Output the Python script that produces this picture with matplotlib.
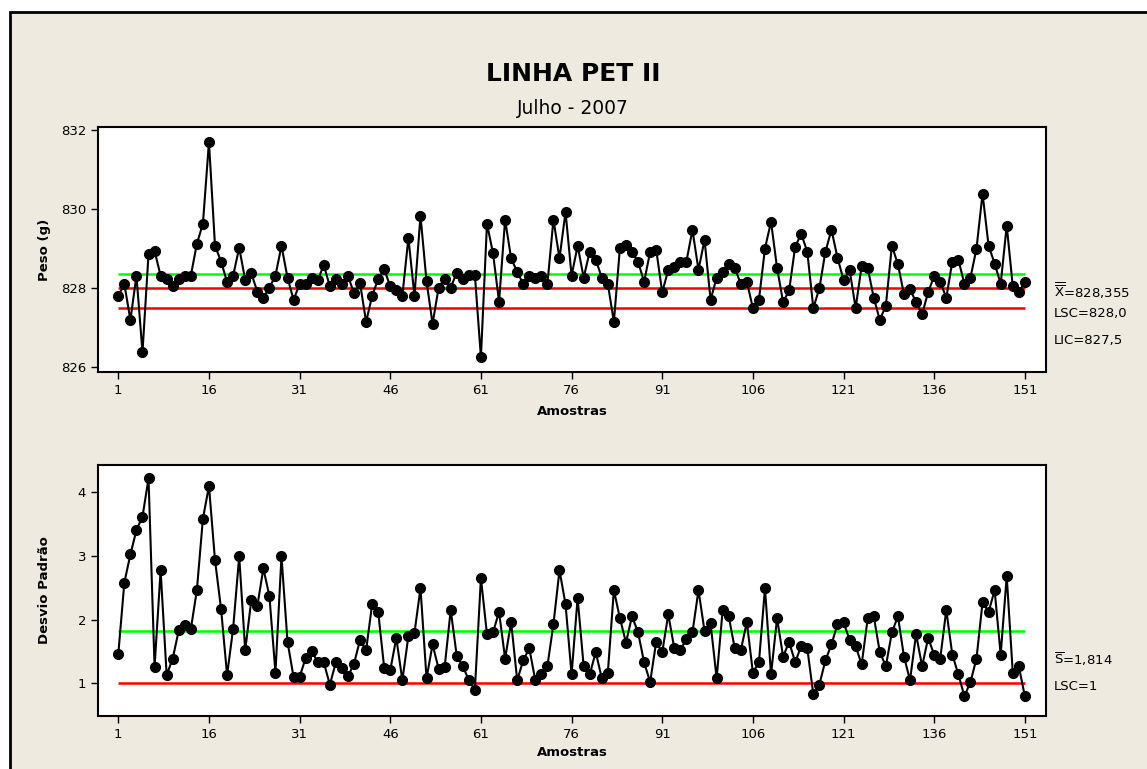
import numpy as np
import matplotlib
matplotlib.use("Agg")
import matplotlib.pyplot as plt
from matplotlib.patches import Rectangle

# data
amostras = np.arange(1, 152)

peso = [
    827.80, 828.10, 827.19, 828.31, 826.37, 828.86, 828.94, 828.31, 828.23, 828.04,
    828.23, 828.31, 828.31, 829.12, 829.63, 831.70, 829.07, 828.67, 828.15, 828.31,
    829.02, 828.20, 828.37, 827.91, 827.75, 828.01, 828.31, 829.07, 828.26, 827.70,
    828.10, 828.10, 828.26, 828.20, 828.58, 828.04, 828.23, 828.10, 828.31, 827.86,
    828.12, 827.14, 827.80, 828.23, 828.47, 828.04, 827.94, 827.80, 829.27, 827.80,
    829.83, 828.17, 827.09, 828.01, 828.23, 828.01, 828.39, 828.23, 828.33, 828.33,
    826.24, 829.63, 828.88, 827.65, 829.73, 828.75, 828.41, 828.10, 828.31, 828.26,
    828.31, 828.10, 829.73, 828.75, 829.93, 828.31, 829.07, 828.26, 828.92, 828.72,
    828.26, 828.10, 827.14, 829.02, 829.09, 828.92, 828.67, 828.15, 828.92, 828.97,
    827.89, 828.46, 828.53, 828.67, 828.67, 829.47, 828.46, 829.22, 827.70, 828.26,
    828.41, 828.62, 828.51, 828.10, 828.16, 827.49, 827.70, 829.00, 829.68, 828.51,
    827.64, 827.94, 829.05, 829.37, 828.92, 827.49, 827.99, 828.92, 829.47, 828.77,
    828.20, 828.46, 827.49, 828.56, 828.51, 827.75, 827.19, 827.55, 829.07, 828.60,
    827.84, 827.97, 827.64, 827.34, 827.89, 828.31, 828.16, 827.75, 828.67, 828.72,
    828.10, 828.26, 829.00, 830.39, 829.07, 828.62, 828.10, 829.58, 828.05, 827.89,
    828.16,
]

desvio = [
    1.46, 2.58, 3.02, 3.40, 3.61, 4.21, 1.26, 2.77, 1.13, 1.39,
    1.83, 1.91, 1.85, 2.46, 3.58, 4.09, 2.93, 2.17, 1.13, 1.86,
    2.99, 1.52, 2.30, 2.21, 2.80, 2.37, 1.17, 2.99, 1.65, 1.10,
    1.10, 1.40, 1.51, 1.33, 1.33, 0.98, 1.33, 1.24, 1.11, 1.31,
    1.68, 1.52, 2.24, 2.12, 1.24, 1.21, 1.71, 1.05, 1.74, 1.79,
    2.49, 1.08, 1.61, 1.23, 1.26, 2.15, 1.43, 1.27, 1.05, 0.90,
    2.65, 1.77, 1.80, 2.12, 1.39, 1.96, 1.05, 1.36, 1.55, 1.05,
    1.14, 1.27, 1.93, 2.77, 2.24, 1.14, 2.34, 1.27, 1.14, 1.49,
    1.08, 1.17, 2.46, 2.02, 1.64, 2.05, 1.80, 1.33, 1.02, 1.65,
    1.49, 2.08, 1.55, 1.52, 1.70, 1.80, 2.46, 1.82, 1.94, 1.08,
    2.15, 2.05, 1.55, 1.52, 1.96, 1.17, 1.33, 2.49, 1.14, 2.02,
    1.42, 1.65, 1.33, 1.59, 1.55, 0.83, 0.98, 1.36, 1.61, 1.93,
    1.96, 1.68, 1.58, 1.30, 2.02, 2.05, 1.49, 1.27, 1.80, 2.05,
    1.42, 1.05, 1.77, 1.27, 1.71, 1.45, 1.39, 2.15, 1.45, 1.14,
    0.80, 1.02, 1.39, 2.27, 2.12, 2.46, 1.45, 2.68, 1.17, 1.27,
    0.80,
]

x_media, lsc_peso, lic_peso = 828.355, 828.0, 827.5
s_media, lsc_desvio = 1.814, 1.0
xticks = list(range(1, 152, 15))

W, H = 1147, 769
fig = plt.figure(figsize=(W / 100, H / 100), dpi=100, facecolor="white")
fig.patches.append(Rectangle((10 / W, -0.1), 1.2, 1 - 12 / H + 0.1, transform=fig.transFigure,
                             facecolor="#EEEAE0", edgecolor="black", lw=2, zorder=-10))

fs = 9.5


def painel(ax, y, linhas, yticks, ylim, ylabel):
    for val, cor in linhas:
        ax.hlines(val, 1, 151, colors=cor, lw=1.8, zorder=2)
    ax.plot(amostras, y, color="black", lw=1.5, marker="o", markersize=7, zorder=3)
    ax.set_xlim(-2.36, 154.5)
    ax.set_ylim(*ylim)
    ax.set_xticks(xticks)
    ax.set_yticks(yticks)
    ax.tick_params(direction="out", length=5, width=1, labelsize=fs, colors="black")
    for s in ax.spines.values():
        s.set_linewidth(1.5)
    ax.set_xlabel("Amostras", fontsize=fs, fontweight="bold")
    ax.set_ylabel(ylabel, fontsize=fs, fontweight="bold")
    ax.yaxis.set_label_coords(-0.05, 0.5)
    ax.xaxis.label.set_va("center")


ax1 = fig.add_axes([98 / W, 1 - 372 / H, 948 / W, 245 / H])
painel(ax1, peso, [(x_media, "#00FF00"), (lsc_peso, "#FF0000"), (lic_peso, "#FF0000")],
       [826, 828, 830, 832], (825.87, 832.08), "Peso (g)")
ax1.xaxis.set_label_coords(0.5, -0.16)

ax2 = fig.add_axes([98 / W, 1 - 716 / H, 948 / W, 251 / H])
painel(ax2, desvio, [(s_media, "#00FF00"), (lsc_desvio, "#FF0000")],
       [1, 2, 3, 4], (0.49, 4.42), "Desvio Padrão")
ax2.xaxis.set_label_coords(0.5, -0.147)

fig.text(573 / W, 1 - 74 / H, "LINHA PET II", fontsize=18, fontweight="bold", ha="center", va="center")
fig.text(573 / W, 1 - 108 / H, "Julho - 2007", fontsize=13.5, ha="center", va="center")

lab = dict(fontsize=fs, ha="left", va="center")
fig.text(1054 / W, 1 - 291 / H, r"$\overline{\overline{\mathrm{X}}}$=828,355", **lab)
fig.text(1054 / W, 1 - 313 / H, "LSC=828,0", **lab)
fig.text(1054 / W, 1 - 340 / H, "LIC=827,5", **lab)
fig.text(1054 / W, 1 - 659 / H, r"$\overline{\mathrm{S}}$=1,814", **lab)
fig.text(1054 / W, 1 - 686 / H, "LSC=1", **lab)

fig.savefig("out.png", dpi=100, facecolor=fig.get_facecolor())
